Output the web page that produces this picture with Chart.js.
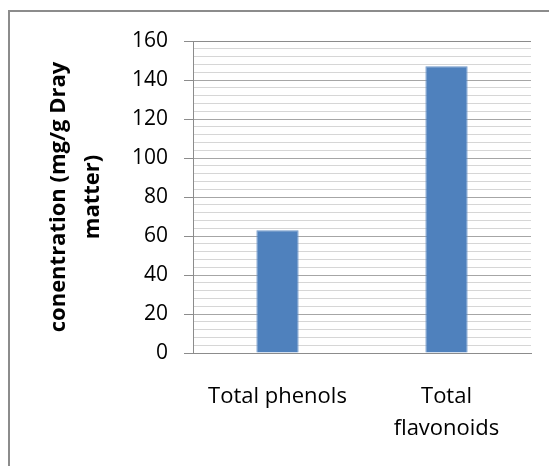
<!DOCTYPE html>
<html>
<head>
<meta charset="utf-8">
<script src="https://cdn.jsdelivr.net/npm/chart.js@4/dist/chart.umd.min.js"></script>
<style>
    body { margin: 0; background: #fff; overflow: hidden; }
    #frame {
        position: absolute; left: 8px; top: 10px;
        width: 600px; height: 500px;
        border: 2px solid #8c8c8c;
    }
    #chart_box { position: absolute; left: 0; top: 0; width: 549px; height: 466px; }
</style>
</head>
<body>
<div id="frame"></div>
<div id="chart_box"><canvas id="conc_chart" width="549" height="466"></canvas></div>
<script>
// chart data
const categories = ['Total phenols', ['Total', 'flavonoids']];
const concentration = [63, 147];
const yMin = 0;
const yMax = 160;
const minorStep = 4;
const majorStep = 20;
const yTitle = ['conentration (mg/g Dray', 'matter)'];

const fontFamily = "'Open Sans', 'Liberation Sans', sans-serif";

function gridColour(ctx) {
    const v = ctx.tick ? ctx.tick.value : 0;
    if (v === yMin || v === yMax) return '#8c8c8c';
    if (v % majorStep === 0) return '#a6a6a6';
    return '#d6d6d6';
}

function tickMarkColour(ctx) {
    const v = ctx.tick ? ctx.tick.value : 0;
    return v % majorStep === 0 ? '#8c8c8c' : 'rgba(0,0,0,0)';
}

const ctx = document.getElementById('conc_chart').getContext('2d');

new Chart(ctx, {
    type: 'bar',
    data: {
        labels: categories,
        datasets: [{
            data: concentration,
            backgroundColor: '#4f81bd',
            borderColor: '#6e97c9',
            borderWidth: 1,
            categoryPercentage: 1,
            barPercentage: 0.25
        }]
    },
    options: {
        responsive: false,
        animation: false,
        layout: {
            padding: { left: 0, right: 18, top: 41, bottom: 0 }
        },
        plugins: {
            legend: { display: false },
            tooltip: { enabled: false }
        },
        scales: {
            x: {
                grid: { display: false, drawTicks: false },
                border: { display: true, color: '#8c8c8c', width: 1 },
                ticks: {
                    color: '#000',
                    padding: 28,
                    maxRotation: 0,
                    font: { family: fontFamily, size: 22, lineHeight: 1.45 }
                },
                afterFit: (scale) => { scale.height = 113; }
            },
            y: {
                min: yMin,
                max: yMax,
                grid: {
                    color: gridColour,
                    tickColor: tickMarkColour,
                    tickLength: 9,
                    lineWidth: 1
                },
                border: { display: true, color: '#8c8c8c', width: 1 },
                ticks: {
                    stepSize: minorStep,
                    autoSkip: false,
                    padding: 16,
                    color: '#000',
                    font: { family: fontFamily, size: 21 },
                    callback: (value) => (value % majorStep === 0 ? value : '')
                },
                title: {
                    display: true,
                    text: yTitle,
                    color: '#000',
                    padding: { top: 42, bottom: 0 },
                    font: { family: fontFamily, size: 22, weight: 'bold', lineHeight: 1.55 }
                },
                afterFit: (scale) => { scale.width = 193; }
            }
        }
    }
});
</script>
</body>
</html>
